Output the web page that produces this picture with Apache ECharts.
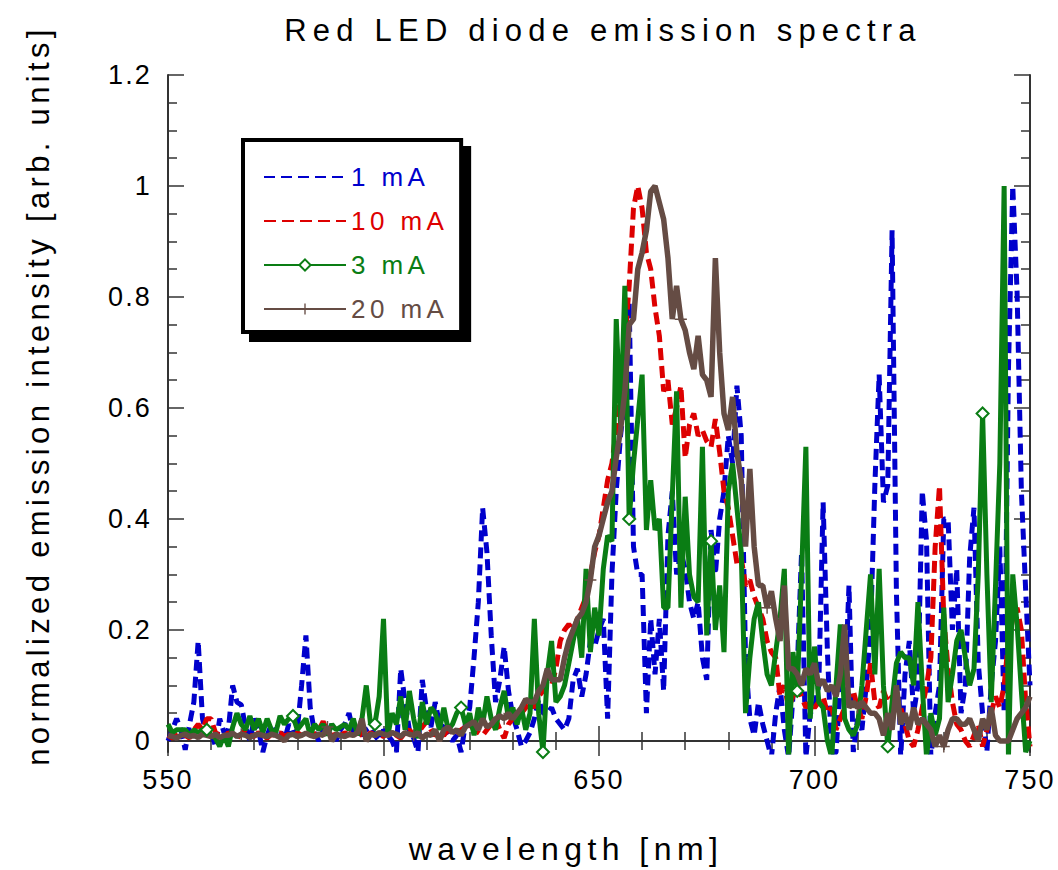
<!DOCTYPE html>
<html>
<head>
<meta charset="utf-8">
<script src="https://cdn.jsdelivr.net/npm/echarts@6/dist/echarts.min.js"></script>
<style>
  html, body { margin: 0; padding: 0; background: #fff; }
  #main { width: 1058px; height: 870px; }
  #main svg text { letter-spacing: 0.08em; }
</style>
</head>
<body>
<div id="main"></div>
<script>
// wavelength grid, 1 nm steps
var nm = []
for (var w = 550; w <= 750; w++) nm.push(w)

var xTicks = [550, 600, 650, 700, 750]
var yTicks = [0, 0.2, 0.4, 0.6, 0.8, 1, 1.2]

// normalized intensities, 550..750 nm
var i1mA = [
  0.0, 0.02, 0.04, 0.02, -0.016, 0.03, 0.07, 0.18, 0.04, 0.01,
  0.02, -0.01, 0.04, 0.015, 0.02, 0.1, 0.07, 0.065, 0.025, 0.0,
  0.04, 0.02, -0.02, 0.01, 0.03, 0.01, 0.02, 0.0, 0.03, 0.01,
  0.02, 0.1, 0.19, 0.06, 0.015, 0.0, 0.02, 0.01, 0.03, 0.0,
  0.02, 0.03, 0.05, 0.015, 0.02, 0.01, 0.02, 0.025, 0.01, 0.0,
  0.02, 0.01, 0.0, -0.02, 0.13, 0.07, 0.02, 0.005, -0.02, 0.11,
  0.055, 0.025, 0.07, 0.03, 0.025, 0.01, 0.0, 0.01, -0.02, 0.03,
  0.06, 0.15, 0.25, 0.42, 0.34, 0.19, 0.07, 0.11, 0.17, 0.09,
  0.045, 0.02, -0.01, 0.0, 0.015, 0.04, 0.075, 0.05, 0.05, 0.06,
  0.04, 0.03, 0.02, 0.04, 0.11, 0.13, 0.08, 0.12, 0.18, 0.17,
  0.2, 0.22, 0.04, 0.3, 0.45, 0.55, 0.62, 0.79, 0.35, 0.3,
  0.3, 0.05, 0.22, 0.12, 0.22, 0.09, 0.37, 0.45, 0.3, 0.34,
  0.31, 0.25, 0.22, 0.25, 0.15, 0.11, 0.38, 0.3, 0.4, 0.45,
  0.55, 0.5, 0.64, 0.55, 0.15, 0.04, 0.01, 0.07, 0.03, 0.0,
  -0.03, 0.05, 0.1, 0.02, -0.03, 0.08, 0.13, 0.34, -0.03, 0.05,
  0.06, 0.1, 0.43, 0.16, -0.03, -0.02, 0.1, 0.08, 0.28, -0.02,
  0.04, 0.02, 0.1, 0.2, 0.46, 0.66, 0.43, 0.46, 0.92, 0.27,
  -0.03, 0.12, 0.18, 0.05, 0.1, 0.45, 0.36, -0.03, 0.05, 0.1,
  0.4, 0.4, 0.2, 0.31, 0.05, 0.1, 0.33, 0.42, 0.14, 0.05,
  -0.02, 0.1, 0.18, 0.35, 0.05, 0.67, 1.0, 0.81, 0.45, 0.27,
  0.1
]
var i10mA = [
  0.01, 0.005, 0.01, 0.015, 0.01, 0.005, 0.02, 0.03, 0.02, 0.04,
  0.04, 0.015, 0.01, 0.005, 0.015, 0.01, 0.005, 0.012, 0.02, 0.01,
  0.008, 0.015, 0.01, 0.005, 0.012, 0.01, 0.015, 0.008, 0.012, 0.005,
  0.015, 0.01, 0.008, 0.015, 0.01, 0.02, 0.035, 0.015, 0.01, 0.012,
  0.008, 0.015, 0.01, 0.02, 0.025, 0.01, 0.005, 0.015, 0.01, 0.012,
  0.008, 0.015, 0.02, 0.01, 0.005, 0.015, 0.02, 0.01, 0.015, 0.025,
  0.035, 0.02, 0.01, 0.015, 0.01, 0.02, 0.015, 0.01, 0.02, 0.025,
  0.03, 0.02, 0.015, 0.01, 0.02, 0.03, 0.04, 0.02, 0.005, 0.03,
  0.04, 0.05, 0.05, 0.06, 0.07, 0.06, 0.08, 0.09, 0.1, 0.1,
  0.13, 0.18, 0.2, 0.21, 0.2, 0.22, 0.24, 0.26, 0.3, 0.34,
  0.37, 0.42, 0.47, 0.5, 0.56, 0.62, 0.72, 0.82, 0.96, 1.0,
  0.96, 0.88, 0.85, 0.78, 0.73, 0.63, 0.65, 0.57, 0.6, 0.64,
  0.51, 0.57, 0.59, 0.55, 0.56, 0.54, 0.53, 0.58, 0.52, 0.45,
  0.42, 0.37, 0.32, 0.33, 0.28, 0.29, 0.26, 0.24, 0.22, 0.18,
  0.16, 0.15, 0.08, 0.1, 0.06, 0.08, 0.1, 0.08, 0.06, 0.07,
  0.06, 0.07, 0.08, 0.05, 0.06, 0.02, 0.04, 0.06, 0.08, 0.09,
  0.06, 0.04, 0.08, 0.14, 0.07, 0.06, 0.09, 0.07, 0.08, 0.07,
  0.06, 0.03, 0.0, -0.01, 0.02, 0.06, 0.1, 0.15, 0.35, 0.46,
  0.22, 0.13, 0.07, 0.03, 0.02, 0.0, -0.01, 0.01, 0.03, -0.01,
  0.02, 0.05, 0.08, 0.06, 0.1, 0.18, 0.22, 0.24, 0.2, 0.07,
  -0.01
]
var i3mA = [
  0.03, 0.015, 0.02, 0.02, 0.02, 0.01, 0.02, 0.015, 0.02, 0.02,
  0.01, 0.005, -0.01, 0.01, -0.01, 0.025, 0.05, 0.03, 0.02, 0.045,
  0.02, 0.04, 0.015, 0.04, 0.02, 0.015, 0.045, 0.03, 0.04, 0.045,
  0.02, 0.03, 0.04, 0.01, 0.03, 0.02, 0.03, 0.01, 0.03, 0.02,
  0.025, 0.03, 0.02, 0.04, 0.01, 0.04, 0.1, 0.03, 0.03, 0.08,
  0.22, 0.01, 0.05, 0.03, 0.08, 0.02, 0.09, 0.04, 0.005, 0.07,
  0.03, 0.06, 0.05, 0.02, 0.06, 0.02, 0.03, 0.05, 0.06, 0.03,
  0.05, 0.01, 0.06, 0.03, 0.08, 0.04, 0.02, 0.06, 0.09, 0.04,
  0.06, 0.03, 0.06, 0.02, 0.05, 0.22, 0.05, -0.02, 0.12, 0.18,
  0.07, 0.08, 0.1, 0.14, 0.18, 0.22, 0.15, 0.31, 0.16, 0.24,
  0.19, 0.31, 0.37, 0.36, 0.76, 0.57, 0.82, 0.4, 0.5, 0.58,
  0.66, 0.38, 0.47, 0.38, 0.4, 0.24, 0.24, 0.44, 0.63, 0.24,
  0.44, 0.3, 0.26, 0.25, 0.53, 0.19, 0.36, 0.2, 0.28, 0.16,
  0.45, 0.5, 0.42, 0.34, 0.05, 0.15, 0.22, 0.25, 0.18, 0.12,
  0.1, 0.16, 0.22, 0.31, -0.03, 0.16, 0.09, 0.3, 0.53, 0.04,
  0.17, 0.07, 0.06, 0.0, -0.03, 0.1, 0.21, 0.04, 0.02, 0.01,
  0.03, 0.1, 0.2, 0.3, 0.12, 0.31, 0.1, -0.01, 0.07, 0.14,
  0.16, 0.15, 0.15, 0.1, 0.25, 0.1, -0.03, 0.05, 0.01, 0.04,
  0.24, 0.07, 0.12, 0.18, 0.2, 0.15, 0.1, 0.13, 0.3, 0.59,
  0.3, 0.07, 0.28, 0.5, 1.0, -0.03, 0.3, 0.21, 0.09, -0.02,
  0.0
]
var i20mA = [
  0.01, 0.008, 0.005, 0.01, 0.012, 0.008, 0.01, 0.006, 0.012, 0.01,
  0.008, 0.012, 0.006, 0.01, 0.01, 0.014, 0.008, 0.012, 0.01, 0.006,
  0.01, 0.012, 0.01, 0.008, 0.012, 0.01, 0.006, 0.0, 0.01, 0.012,
  0.008, 0.01, 0.014, 0.01, 0.008, 0.012, 0.01, 0.025, 0.0, 0.012,
  0.01, 0.008, 0.012, 0.01, 0.015, 0.04, 0.0, 0.012, 0.01, 0.015,
  0.012, 0.01, 0.015, 0.012, 0.008, 0.015, 0.012, 0.01, 0.015, 0.005,
  0.012, 0.01, 0.02, 0.0, 0.02, 0.025, 0.015, 0.02, 0.01, 0.025,
  0.03, 0.035, 0.02, 0.04, 0.025, 0.03, 0.04, 0.045, 0.04, 0.05,
  0.04, 0.05, 0.06, 0.075, 0.07, 0.07, 0.09, 0.1, 0.13, 0.11,
  0.11, 0.11, 0.15, 0.18, 0.2, 0.22, 0.23, 0.25, 0.29, 0.35,
  0.37, 0.4, 0.43, 0.45, 0.51, 0.56, 0.63, 0.75, 0.76, 0.85,
  0.88, 0.92, 0.99, 1.0, 0.97, 0.94, 0.87, 0.76, 0.82, 0.76,
  0.74, 0.7, 0.67, 0.73, 0.66, 0.65, 0.62, 0.87, 0.7, 0.59,
  0.56, 0.62, 0.52, 0.47, 0.35, 0.49, 0.35, 0.28, 0.28, 0.24,
  0.27, 0.22, 0.18, 0.28, 0.13, 0.13, 0.12, 0.1, 0.13, 0.12,
  0.14, 0.1, 0.11, 0.09, 0.1, 0.08, 0.12, 0.21, 0.06, 0.07,
  0.06, 0.07, 0.06, 0.05, 0.05, 0.04, 0.01, 0.05, 0.02, 0.1,
  0.03, 0.05, 0.02, 0.06, 0.03, 0.04, 0.03, 0.02, -0.01, 0.01,
  -0.01, 0.02, 0.04, 0.04, 0.03, 0.03, 0.04, 0.02, 0.0, 0.04,
  0.02, 0.06, 0.01, 0.0, 0.0, 0.0, 0.02, 0.04, 0.05, 0.06,
  0.08
]

// where the sparse markers sit on the 3 mA and 20 mA curves
var diamondNm = [559, 579, 598, 618, 637, 657, 676, 696, 717, 739]
var plusNm = [567, 587, 607, 628, 648, 669, 689, 710, 730]

var blue = '#0000cc', red = '#dd0000', green = '#0a7d14', brown = '#654c44'
var axisColor = '#333'
var font = 'Liberation Sans, Arial, sans-serif'
var titleText = 'Red LED diode emission spectra'
var xName = 'wavelength [nm]'
var yName = 'normalized emission intensity [arb. units]'

function pairs(vals) {
  return nm.map(function (w, i) { return [w, vals[i]] })
}

var minorY = []
for (var k = 1; k <= 24; k++) {
  if (k % 4 !== 0) minorY.push(Math.round(k * 5) / 100)
}

var myChart = echarts.init(document.getElementById('main'), null, { renderer: 'svg' })

var xBase = {
  type: 'value',
  min: 550,
  max: 750,
  interval: 50,
  axisLine: { show: true, lineStyle: { color: axisColor, width: 2 } },
  axisTick: { show: true, inside: true, length: 15, lineStyle: { color: axisColor, width: 1.5 } },
  minorTick: { show: true, splitNumber: 5, length: 9, lineStyle: { color: axisColor, width: 1.5 } },
  splitLine: { show: false },
  minorSplitLine: { show: false }
}

var yBase = {
  type: 'value',
  min: -0.02,
  max: 1.2,
  splitLine: { show: false },
  axisLabel: { show: false }
}

myChart.setOption({
  animation: false,
  backgroundColor: '#fff',
  graphic: [{
    type: 'text',
    x: 603,
    y: 30,
    style: {
      text: titleText,
      font: '31px ' + font,
      fill: '#000',
      align: 'center',
      verticalAlign: 'middle'
    }
  }],
  grid: { left: 168, right: 28, top: 75, bottom: 118, outerBoundsMode: 'none' },
  legend: {
    left: 243,
    top: 140,
    orient: 'vertical',
    itemWidth: 82,
    itemHeight: 14,
    itemGap: 18,
    padding: [24, 35, 10, 20],
    backgroundColor: '#fff',
    borderColor: '#000',
    borderWidth: 4,
    borderRadius: 0,
    shadowColor: '#000',
    shadowBlur: 0,
    shadowOffsetX: 8,
    shadowOffsetY: 8,
    selectedMode: false,
    textStyle: { fontFamily: font, fontSize: 26, lineHeight: 24 },
    data: [
      { name: '1 mA', textStyle: { color: blue }, itemStyle: { opacity: 0 } },
      { name: '10 mA', textStyle: { color: red }, itemStyle: { opacity: 0 } },
      { name: '3 mA', textStyle: { color: green } },
      { name: '20 mA', textStyle: { color: brown } }
    ]
  },
  xAxis: [
    Object.assign({}, xBase, {
      position: 'bottom',
      name: xName,
      nameLocation: 'middle',
      nameGap: 81,
      nameTextStyle: { fontFamily: font, fontSize: 32, color: '#000', padding: [0, 66, 0, 0] },
      axisLabel: { show: true, margin: 14, fontFamily: font, fontSize: 27, color: '#000',
        customValues: xTicks }
    }),
    Object.assign({}, xBase, {
      position: 'top',
      axisLabel: { show: false }
    })
  ],
  yAxis: [
    Object.assign({}, yBase, {
      position: 'left',
      name: yName,
      nameLocation: 'middle',
      nameGap: 114,
      nameTextStyle: { fontFamily: font, fontSize: 31, color: '#000', padding: [0, 0, 0, 36] },
      axisLine: { show: true, lineStyle: { color: axisColor, width: 2 } },
      axisTick: { show: true, inside: true, length: 16, customValues: yTicks,
        lineStyle: { color: axisColor, width: 1.5 } },
      axisLabel: { show: true, margin: 16, fontFamily: font, fontSize: 27, color: '#000',
        customValues: yTicks }
    }),
    Object.assign({}, yBase, {
      position: 'left',
      axisLine: { show: false },
      axisTick: { show: true, inside: true, length: 9, customValues: minorY,
        lineStyle: { color: axisColor, width: 1.5 } }
    }),
    Object.assign({}, yBase, {
      position: 'right',
      axisLine: { show: true, lineStyle: { color: axisColor, width: 2 } },
      axisTick: { show: true, inside: true, length: 16, customValues: yTicks,
        lineStyle: { color: axisColor, width: 1.5 } }
    }),
    Object.assign({}, yBase, {
      position: 'right',
      axisLine: { show: false },
      axisTick: { show: true, inside: true, length: 9, customValues: minorY,
        lineStyle: { color: axisColor, width: 1.5 } }
    })
  ],
  series: [
    {
      name: '1 mA',
      type: 'line',
      data: pairs(i1mA),
      symbol: 'none',
      color: blue,
      lineStyle: { color: blue, width: 5, type: [11, 6] }
    },
    {
      name: '10 mA',
      type: 'line',
      data: pairs(i10mA),
      symbol: 'none',
      color: red,
      lineStyle: { color: red, width: 5, type: [12, 6] }
    },
    {
      name: '3 mA',
      type: 'line',
      data: pairs(i3mA),
      symbol: 'emptyDiamond',
      showSymbol: true,
      showAllSymbol: true,
      symbolSize: function (val) { return diamondNm.indexOf(val[0]) >= 0 ? 12 : 0 },
      color: green,
      itemStyle: { color: green, borderColor: green, borderWidth: 1.2 },
      lineStyle: { color: green, width: 5 }
    },
    {
      name: '20 mA',
      type: 'line',
      data: pairs(i20mA),
      symbol: 'path://M4.4,0H5.6V10H4.4Z M0,4.4H10V5.6H0Z',
      showSymbol: true,
      showAllSymbol: true,
      symbolSize: function (val) { return plusNm.indexOf(val[0]) >= 0 ? 12 : 0 },
      color: brown,
      itemStyle: { color: brown },
      lineStyle: { color: brown, width: 5.5 }
    }
  ]
})

// the original typesetting is letter-spaced; svg text takes css letter-spacing
function spaceText() {
  var texts = document.querySelectorAll('#main svg text')
  texts.forEach(function (t) {
    var s = t.textContent
    if (s === titleText) t.style.letterSpacing = '0.2em'
    else if (s === xName) t.style.letterSpacing = '0.17em'
    else if (s === yName) t.style.letterSpacing = '0.14em'
    else if (/mA$/.test(s)) t.style.letterSpacing = '0.17em'
  })
}
myChart.on('finished', spaceText)
spaceText()
setTimeout(spaceText, 0)
</script>
</body>
</html>
